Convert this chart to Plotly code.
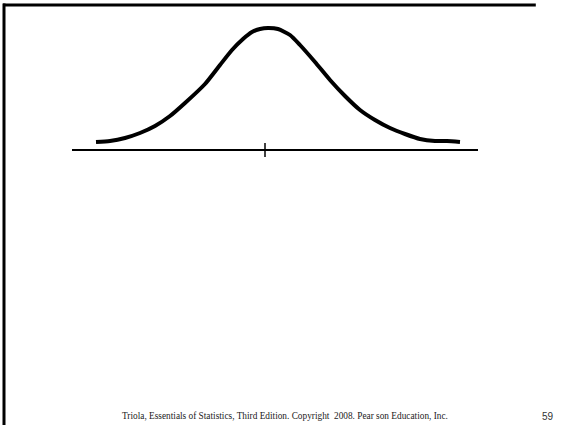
import plotly.graph_objects as go

# bell curve: horizontal position and height above the baseline
curve_x = [96, 110, 125, 140, 155, 170, 185, 205, 220, 232, 243, 252, 260, 268,
           278, 290, 300, 315, 330, 345, 360, 375, 390, 405, 420, 435, 447, 460]
curve_h = [8, 9, 12, 17, 24, 34, 47, 66, 85, 100, 111, 118, 121, 122,
           121, 115, 105, 88, 70, 54, 40, 30, 22, 16, 11, 9, 9, 8]

# horizontal axis and the centre tick
axis_x = [72, 478]
center_x = 265
tick_h = [-7, 7]

footer = "Triola, Essentials of Statistics, Third Edition. Copyright  2008. Pear son Education, Inc."
page_no = "59"

W, H = 564, 425

fig = go.Figure()

fig.add_trace(go.Scatter(
    x=curve_x, y=curve_h, mode="lines",
    line=dict(color="black", width=4, shape="spline", smoothing=0.6),
    hoverinfo="skip",
))
fig.add_trace(go.Scatter(
    x=axis_x, y=[0, 0], mode="lines",
    line=dict(color="black", width=2),
    hoverinfo="skip",
))
fig.add_trace(go.Scatter(
    x=[center_x, center_x], y=tick_h, mode="lines",
    line=dict(color="black", width=1.5),
    hoverinfo="skip",
))

# slide frame: top and left edges only
fig.add_shape(type="line", xref="paper", yref="paper",
              x0=3 / W, x1=0.95, y0=1 - 5 / H, y1=1 - 5 / H,
              line=dict(color="black", width=3))
fig.add_shape(type="line", xref="paper", yref="paper",
              x0=4 / W, x1=4 / W, y0=0, y1=1 - 3.5 / H,
              line=dict(color="black", width=3))

fig.add_annotation(
    x=284.5 / W, y=1 - 416 / H, xref="paper", yref="paper",
    text=footer, showarrow=False, xanchor="center", yanchor="middle",
    font=dict(family="Liberation Serif", size=9.3, color="#222222"),
)
fig.add_annotation(
    x=548 / W, y=1 - 416 / H, xref="paper", yref="paper",
    text=page_no, showarrow=False, xanchor="center", yanchor="middle",
    font=dict(family="Liberation Sans", size=10, color="#333333"),
)

fig.update_layout(
    width=W, height=H,
    margin=dict(l=0, r=0, t=0, b=0),
    paper_bgcolor="white", plot_bgcolor="white",
    showlegend=False,
    xaxis=dict(range=[0, W], visible=False, fixedrange=True),
    yaxis=dict(range=[150 - H, 150], visible=False, fixedrange=True),
)

# drop the page's default body margin so the figure sits at the window's corner
page_fix = (
    "document.body.style.margin='0';"
    "document.body.style.overflow='hidden';"
    "document.documentElement.style.overflow='hidden';"
)
fig.write_html("out.html", config={"displayModeBar": False}, post_script=page_fix)
